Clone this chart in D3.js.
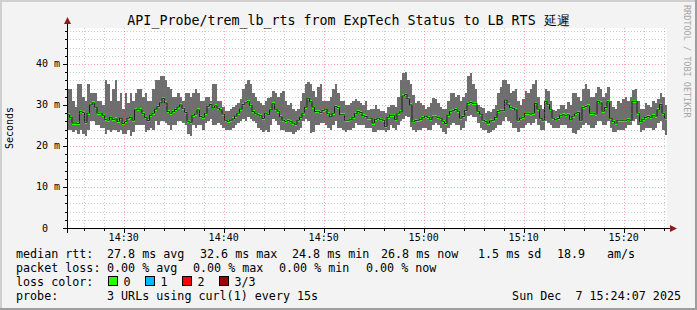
<!DOCTYPE html>
<html>
<head>
<meta charset="utf-8">
<script src="https://cdn.jsdelivr.net/npm/d3@7"></script>
<style>
body { margin: 0; background: #f3f3f3; }
text { font-family: "DejaVu Sans Mono", monospace; white-space: pre; }
</style>
</head>
<body>
<svg id="vis"></svg>
<script>
// median rtt per 15s step (ms)
var medians = [
  27.6, 27.0, 25.6, 25.6, 25.5, 28.4, 28.2, 25.8, 28.0, 30.0,
  30.5, 29.5, 28.0, 28.0, 27.5, 26.5, 26.3, 27.0, 26.5, 26.6,
  26.0, 26.8, 25.5, 26.0, 26.8, 27.0, 26.3, 28.8, 29.0, 28.8,
  27.9, 27.0, 26.2, 27.5, 28.0, 29.0, 29.6, 30.5, 31.6, 30.5,
  28.4, 28.0, 28.4, 28.9, 29.5, 30.0, 29.2, 28.2, 26.0, 25.8,
  27.5, 27.8, 28.8, 27.2, 27.0, 28.0, 29.7, 30.1, 29.3, 29.8,
  29.2, 28.8, 27.8, 26.3, 26.0, 26.3, 26.6, 27.3, 28.0, 29.0,
  30.1, 30.5, 30.8, 29.9, 28.4, 28.0, 27.6, 27.4, 26.7, 28.0,
  27.6, 28.8, 30.3, 29.0, 28.5, 27.1, 26.3, 26.0, 26.2, 26.0,
  25.6, 25.3, 26.3, 27.0, 28.0, 29.5, 31.7, 30.8, 29.5, 28.4,
  28.4, 28.2, 28.7, 29.0, 27.9, 27.1, 28.0, 29.6, 29.4, 27.6,
  27.6, 26.3, 26.3, 26.4, 27.0, 27.9, 28.4, 28.2, 27.4, 27.2,
  26.8, 26.8, 25.6, 26.5, 26.8, 26.5, 26.3, 24.8, 27.0, 27.5,
  27.5, 26.5, 28.0, 28.3, 32.2, 32.6, 31.5, 30.0, 25.9, 26.2,
  26.3, 26.5, 26.9, 27.3, 27.0, 26.5, 27.1, 27.1, 27.0, 26.8,
  26.0, 25.5, 27.5, 28.4, 28.6, 28.9, 28.5, 26.8, 27.2, 28.7,
  30.4, 30.6, 30.4, 30.4, 28.5, 27.8, 26.3, 26.0, 25.6, 26.1,
  26.3, 27.0, 28.4, 28.6, 28.6, 31.2, 30.0, 29.4, 29.2, 28.8,
  26.3, 26.8, 27.0, 28.0, 28.0, 27.8, 28.0, 30.4, 29.0, 26.8,
  26.3, 30.9, 30.2, 29.0, 26.8, 26.4, 26.7, 27.4, 27.6, 27.4,
  27.6, 26.4, 27.3, 28.0, 28.2, 26.3, 29.4, 29.6, 29.8, 28.0,
  28.0, 27.8, 30.9, 30.5, 28.5, 29.4, 30.8, 26.8, 26.0, 25.6,
  26.3, 26.3, 26.3, 26.3, 26.4, 26.3, 30.9, 30.9, 28.0, 26.0,
  26.5, 27.0, 27.2, 27.0, 27.4, 27.3, 28.8, 30.1, 28.0, 26.8
];
// fastest of the 3 pings
var mins = [
  24, 24, 23.5, 24, 23, 24, 23, 22.5, 24, 26,
  26, 25, 25, 24.5, 24.5, 23, 24, 23.5, 24, 24,
  23.5, 24, 23, 23, 24, 22.5, 23.5, 25, 25, 25,
  25, 23.5, 24, 24.5, 24, 26, 25, 26, 26, 25.5,
  25, 24, 25, 25, 26, 26, 25.5, 25, 23, 22.5,
  25, 24.5, 25, 25, 24, 25.5, 26, 26.5, 25, 25,
  25.5, 25, 24.5, 23.8, 24, 24, 24.5, 25, 25.5, 26,
  26.5, 26, 27, 26.5, 26, 25.5, 24.5, 24, 23.5, 24,
  23.4, 25, 26.5, 26, 25, 24, 24, 23.5, 23.5, 23.5,
  23, 23.5, 24, 24.5, 26, 26.5, 26, 23.2, 23.5, 25,
  25, 25.5, 25.5, 25, 24.5, 24, 25, 26, 24.5, 24.5,
  24, 23.5, 23.8, 24, 24.5, 25.5, 25, 25, 25, 24.5,
  24.5, 24.5, 23.5, 23.5, 24, 24, 24, 23.5, 24, 25,
  24.5, 24, 25, 26, 26.5, 27.2, 27, 24.7, 23.8, 23.5,
  23.8, 24, 24.5, 24.3, 24, 24, 25, 25.5, 25, 24.5,
  23.5, 23, 24.5, 25, 25.5, 25, 25, 24, 24.5, 26,
  27.2, 27.6, 27, 27, 25.5, 24.5, 24, 23.8, 23.1, 23.3,
  24, 24.5, 25, 25, 26, 27, 26, 25.5, 24.5, 24.5,
  23.5, 24.5, 24.5, 25, 25.5, 25, 25.5, 26.5, 25, 24,
  24, 26, 25.5, 25, 24.5, 24.5, 24.5, 25, 25, 25,
  24.3, 24.5, 23.2, 23, 24, 24.5, 25, 25.5, 25, 24.5,
  24.5, 25, 26, 26, 25, 25, 26, 24.5, 23.5, 23.5,
  24, 23.8, 24, 24.5, 25, 25, 26, 26.5, 25, 23.5,
  24, 24.5, 24.5, 24.5, 24, 24.5, 25.5, 26, 24, 22.8
];
// slowest of the 3 pings
var maxs = [
  34, 34, 31, 29.5, 35, 35, 32, 31, 35, 33,
  33, 33, 31, 31, 30, 36, 35, 31, 34, 36,
  31, 33, 29, 33, 30.5, 33, 31, 33, 34, 34,
  32, 33, 31, 31, 34, 36, 36, 37, 37, 36,
  34.5, 34, 32, 32, 33, 32, 31, 33, 33, 32,
  33, 34, 33, 31, 31, 32, 32, 31, 35, 35,
  31, 31, 29.5, 28.5, 28.5, 29, 29.5, 30, 30.5, 31.5,
  34, 35, 36, 35, 33, 32, 31, 30.5, 30, 31,
  31.7, 32, 33.5, 33, 32, 33, 33.5, 31, 30, 30.5,
  29, 28.5, 29, 31, 33, 35, 35.5, 35, 33.5, 32,
  34.5, 35, 31, 31, 31, 32, 34, 35, 33, 31,
  31, 30, 30, 30.5, 31, 31.5, 31, 30.5, 30, 31,
  28.8, 29, 29, 30, 29, 28.5, 28.5, 28, 29.5, 30,
  30, 29.5, 32, 36, 37.8, 38, 36, 35, 32.5, 30.5,
  31, 30.5, 30, 29, 29.5, 30.5, 31.7, 31.5, 30.5, 29.5,
  29, 29, 31, 33, 33, 32, 32.5, 31, 32, 33,
  37, 37.8, 35, 34, 30, 29.5, 29.3, 28, 28.5, 28.2,
  29, 30, 33, 34.5, 36, 36, 35, 33, 33.5, 34,
  31, 30, 31.5, 33.5, 33, 34, 35, 36, 32, 30,
  29, 34, 33.5, 31, 28.7, 28.5, 29, 30, 30, 29,
  30.8, 30, 33, 33, 32, 31, 34, 35, 34, 32,
  32, 33, 34.5, 34, 32, 33, 34.5, 31, 29.5, 29,
  31, 30.5, 31.5, 32, 31, 32, 33.7, 34, 31, 29,
  29, 30.5, 30, 29.5, 31, 30.5, 31.5, 33, 32, 30
];

var yTicks = [0, 10, 20, 30, 40];
var yLabels = ["0  ", "10 m", "20 m", "30 m", "40 m"];
var title = "API_Probe/trem_lb_rts from ExpTech Status to LB RTS 延遲";
var lossLabels = ["0", "1", "2", "3/3"];
var lossColors = ["#26ff00", "#00b8ff", "#ff0000", "#a10000"];
var legendText = [
  // [text, x, row]
  ["median rtt:", 16, 0], ["27.8 ms avg", 107, 0], ["32.6 ms max", 200, 0],
  ["24.8 ms min", 292, 0], ["26.8 ms now", 381, 0], ["1.5 ms sd", 478, 0],
  ["18.9", 557, 0], ["am/s", 607, 0],
  ["packet loss:", 16, 1], ["0.00 % avg", 107, 1], ["0.00 % max", 193, 1],
  ["0.00 % min", 279, 1], ["0.00 % now", 366, 1],
  ["loss color:", 16, 2],
  ["probe:", 16, 3], ["3 URLs using curl(1) every 15s", 107, 3]
];
var stampText = "Sun Dec  7 15:24:07 2025";

var W = 697, H = 310;
var margin = {top: 28, right: 30, bottom: 82, left: 67},
    width = 600,
    height = 200;
var step = 15000;
var t0 = Date.UTC(2025, 11, 7, 14, 24, 20);
var t1 = t0 + 3600 * 1000;
var rowY = [258, 272, 286, 300];

var svg = d3.select("#vis")
    .attr("width", W)
    .attr("height", H);

// background + 3d frame
svg.append("rect").attr("width", W).attr("height", H).attr("fill", "#f3f3f3");
svg.append("rect").attr("x", 0).attr("y", 0).attr("width", W).attr("height", 2).attr("fill", "#cfcfcf");
svg.append("rect").attr("x", 0).attr("y", 0).attr("width", 2).attr("height", H).attr("fill", "#cfcfcf");
svg.append("rect").attr("x", 0).attr("y", H - 2).attr("width", W).attr("height", 2).attr("fill", "#9e9e9e");
svg.append("rect").attr("x", W - 2).attr("y", 0).attr("width", 2).attr("height", H).attr("fill", "#9e9e9e");

//scales
var x = d3.scaleUtc()
    .domain([t0, t1])
    .range([margin.left, margin.left + width]);
var y = d3.scaleLinear()
    .domain([0, 48.78])
    .range([margin.top + height, margin.top]);

// canvas
svg.append("rect")
    .attr("x", margin.left).attr("y", margin.top)
    .attr("width", width).attr("height", height)
    .attr("fill", "#ffffff");

var data = medians.map(function(m, i) {
    return {t: t0 + i * step, med: m, lo: mins[i], hi: maxs[i]};
});

var plot = svg.append("g").attr("shape-rendering", "crispEdges");

//smoke
plot.append("g").selectAll("rect")
    .data(data)
    .enter().append("rect")
    .attr("x", function(d) {return x(d.t);})
    .attr("width", function(d) {return x(d.t + step) - x(d.t);})
    .attr("y", function(d) {return y(d.hi);})
    .attr("height", function(d) {return y(d.lo) - y(d.hi);})
    .attr("fill", "#6e6e6e");

//median line (black steps)
var stepPts = data.map(function(d) {return [x(d.t), y(d.med)];});
stepPts.push([x(t1), y(data[data.length - 1].med)]);
svg.append("path")
    .attr("d", d3.line().curve(d3.curveStepAfter)(stepPts))
    .attr("fill", "none")
    .attr("stroke", "#202020")
    .attr("stroke-width", 1);

//median coloured by loss (all 0 loss)
plot.append("g").selectAll("rect")
    .data(data)
    .enter().append("rect")
    .attr("x", function(d) {return x(d.t);})
    .attr("width", function(d) {return x(d.t + step) - x(d.t);})
    .attr("y", function(d) {return y(d.med) - 1.5;})
    .attr("height", 3)
    .attr("fill", lossColors[0]);

// grid on top
var grid = svg.append("g");
var minorY = d3.range(2, 49, 2).filter(function(v) {return v % 10 !== 0;});
var majorY = yTicks.filter(function(v) {return v > 0;});
var minorX = x.ticks(d3.utcMinute.every(2)).filter(function(t) {return t.getUTCMinutes() % 10 !== 0;});
var majorX = x.ticks(d3.utcMinute.every(10));

grid.selectAll(".minorY").data(minorY).enter().append("line")
    .attr("x1", margin.left).attr("x2", margin.left + width)
    .attr("y1", function(d) {return Math.round(y(d)) + 0.5;})
    .attr("y2", function(d) {return Math.round(y(d)) + 0.5;})
    .attr("stroke", "rgba(128,128,128,0.4)").attr("stroke-dasharray", "1,2");
grid.selectAll(".minorX").data(minorX).enter().append("line")
    .attr("y1", margin.top).attr("y2", margin.top + height)
    .attr("x1", function(d) {return Math.round(x(d)) + 0.5;})
    .attr("x2", function(d) {return Math.round(x(d)) + 0.5;})
    .attr("stroke", "rgba(128,128,128,0.4)").attr("stroke-dasharray", "1,2");
grid.selectAll(".majorY").data(majorY).enter().append("line")
    .attr("x1", margin.left).attr("x2", margin.left + width)
    .attr("y1", function(d) {return Math.round(y(d)) + 0.5;})
    .attr("y2", function(d) {return Math.round(y(d)) + 0.5;})
    .attr("stroke", "rgba(255,60,60,0.45)").attr("stroke-dasharray", "1,2");
grid.selectAll(".majorX").data(majorX).enter().append("line")
    .attr("y1", margin.top).attr("y2", margin.top + height)
    .attr("x1", function(d) {return Math.round(x(d)) + 0.5;})
    .attr("x2", function(d) {return Math.round(x(d)) + 0.5;})
    .attr("stroke", "rgba(255,60,60,0.45)").attr("stroke-dasharray", "1,2");

// axes
var ax = svg.append("g").attr("shape-rendering", "crispEdges");
var y0 = Math.round(y(0)) + 0.5, x0 = margin.left + 0.5;
ax.append("line").attr("x1", margin.left - 4).attr("x2", margin.left + width + 3)
    .attr("y1", y0).attr("y2", y0).attr("stroke", "#000");
ax.append("line").attr("x1", x0).attr("x2", x0)
    .attr("y1", y0 + 4).attr("y2", margin.top - 4).attr("stroke", "#000");
svg.append("path")
    .attr("d", "M" + (margin.left + width + 3) + "," + (y0 - 3.5) + "L" + (margin.left + width + 10) + "," + y0 + "L" + (margin.left + width + 3) + "," + (y0 + 3.5) + "Z")
    .attr("fill", "#8e1c1c");
svg.append("path")
    .attr("d", "M" + (x0 - 3.5) + "," + (margin.top - 4) + "L" + x0 + "," + (margin.top - 11) + "L" + (x0 + 3.5) + "," + (margin.top - 4) + "Z")
    .attr("fill", "#8e1c1c");

// ticks
ax.selectAll(".ty").data(yTicks).enter().append("line")
    .attr("x1", margin.left - 4).attr("x2", margin.left)
    .attr("y1", function(d) {return Math.round(y(d)) + 0.5;})
    .attr("y2", function(d) {return Math.round(y(d)) + 0.5;})
    .attr("stroke", "#000");
ax.selectAll(".tym").data(minorY).enter().append("line")
    .attr("x1", margin.left - 2).attr("x2", margin.left)
    .attr("y1", function(d) {return Math.round(y(d)) + 0.5;})
    .attr("y2", function(d) {return Math.round(y(d)) + 0.5;})
    .attr("stroke", "#000");
ax.selectAll(".tx").data(majorX).enter().append("line")
    .attr("y1", y0).attr("y2", y0 + 4)
    .attr("x1", function(d) {return Math.round(x(d)) + 0.5;})
    .attr("x2", function(d) {return Math.round(x(d)) + 0.5;})
    .attr("stroke", "#000");
ax.selectAll(".txm").data(minorX).enter().append("line")
    .attr("y1", y0).attr("y2", y0 + 2)
    .attr("x1", function(d) {return Math.round(x(d)) + 0.5;})
    .attr("x2", function(d) {return Math.round(x(d)) + 0.5;})
    .attr("stroke", "#000");

// tick labels
svg.append("g").selectAll("text")
    .data(yTicks)
    .enter().append("text")
    .text(function(d, i) {return yLabels[i];})
    .attr("x", margin.left - 7)
    .attr("y", function(d) {return y(d) + 3.5;})
    .attr("text-anchor", "end")
    .attr("font-size", "10px")
    .attr("fill", "#000");
svg.append("g").selectAll("text")
    .data(majorX)
    .enter().append("text")
    .text(function(d) {return d3.utcFormat("%H:%M")(d);})
    .attr("x", function(d) {return x(d);})
    .attr("y", 241)
    .attr("text-anchor", "middle")
    .attr("font-size", "10px")
    .attr("fill", "#000");

// y axis title
svg.append("text")
    .text("Seconds")
    .attr("transform", "translate(13," + (margin.top + height / 2) + ") rotate(-90)")
    .attr("text-anchor", "middle")
    .attr("font-size", "10px");

// title
svg.append("text")
    .text(title)
    .attr("x", W / 2)
    .attr("y", 25)
    .attr("text-anchor", "middle")
    .attr("font-size", "13.3px");

// watermark
svg.append("text")
    .text("RRDTOOL / TOBI OETIKER")
    .attr("transform", "translate(684,5) rotate(90)")
    .attr("font-size", "8.5px")
    .attr("fill", "#a6a6a6");

// legend
svg.append("g").selectAll("text")
    .data(legendText)
    .enter().append("text")
    .text(function(d) {return d[0];})
    .attr("x", function(d) {return d[1];})
    .attr("y", function(d) {return rowY[d[2]];})
    .attr("font-size", "11.7px");

var lossItems = svg.append("g").selectAll("g")
    .data(lossLabels)
    .enter().append("g")
    .attr("transform", function(d, i) {return "translate(" + (108.5 + i * 37) + "," + (rowY[2] - 9.5) + ")";});
lossItems.append("rect")
    .attr("width", 9).attr("height", 9)
    .attr("fill", function(d, i) {return lossColors[i];})
    .attr("stroke", "#000");
lossItems.append("text")
    .text(function(d) {return d;})
    .attr("x", 15)
    .attr("y", 9.5)
    .attr("font-size", "11.7px");

svg.append("text")
    .text(stampText)
    .attr("x", 681)
    .attr("y", rowY[3])
    .attr("text-anchor", "end")
    .attr("font-size", "11.7px");
</script>
</body>
</html>
